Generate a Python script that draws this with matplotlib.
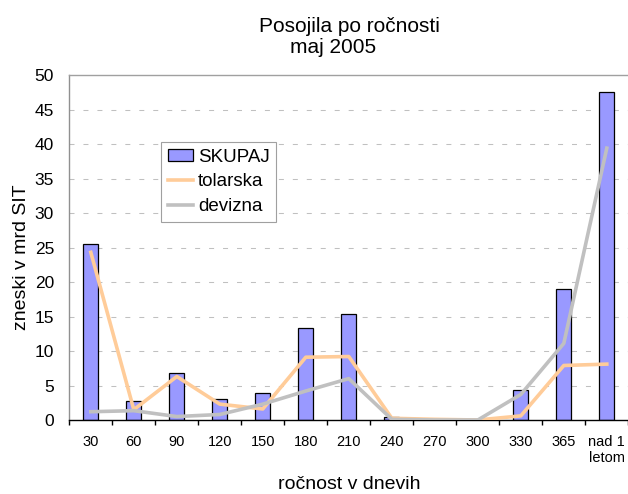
import matplotlib
matplotlib.use("Agg")
import matplotlib.pyplot as plt
from matplotlib import font_manager as fm
import numpy as np

categories = ["30", "60", "90", "120", "150", "180", "210", "240", "270", "300", "330", "365", "nad 1\nletom"]
skupaj = [25.5, 2.8, 6.8, 3.1, 3.9, 13.3, 15.3, 0.4, 0.0, 0.0, 4.3, 19.0, 47.5]
tolarska = [24.3, 1.5, 6.3, 2.3, 1.6, 9.1, 9.2, 0.25, 0.1, 0.0, 0.6, 7.9, 8.1]
devizna = [1.2, 1.35, 0.5, 0.8, 2.3, 4.2, 6.0, 0.1, 0.0, 0.0, 3.7, 11.1, 39.4]
yticks = [0, 5, 10, 15, 20, 25, 30, 35, 40, 45, 50]

names = {f.name for f in fm.fontManager.ttflist}
base = "Liberation Sans" if "Liberation Sans" in names else "DejaVu Sans"
narrow = "Liberation Sans Narrow" if "Liberation Sans Narrow" in names else base
narrow_size = 11.5 if narrow != base else 10.5
plt.rcParams["font.family"] = [base, "DejaVu Sans"]

fig = plt.figure(figsize=(6.28, 4.94), dpi=100)
ax = fig.add_axes([69.3 / 628, 1 - 420 / 494, (628.3 - 69.3) / 628, 345 / 494])

x = np.arange(len(categories))
bars = ax.bar(x, skupaj, width=0.356, color="#9999FF", edgecolor="black", linewidth=0.9,
              label="SKUPAJ", zorder=2)
l1, = ax.plot(x, tolarska, color="#FFCC99", linewidth=2.6, label="tolarska", zorder=3,
              solid_joinstyle="round")
l2, = ax.plot(x, devizna, color="#C0C0C0", linewidth=2.6, label="devizna", zorder=3,
              solid_joinstyle="round")

ax.set_xlim(-0.5, len(categories) - 0.5)
ax.set_ylim(0, 50)
ax.set_yticks(yticks)
ax.set_yticklabels([str(v) for v in yticks], fontsize=12.5)
ax.tick_params(axis="y", length=0, pad=11)

ax.set_xticks(np.arange(-0.5, len(categories), 1.0))
ax.set_xticklabels([])
ax.tick_params(axis="x", which="major", direction="out", length=3.6, width=1, color="black")
ax.set_xticks(x, minor=True)
ax.set_xticklabels(categories, minor=True, fontsize=narrow_size, family=narrow,
                   linespacing=1.25)
ax.tick_params(axis="x", which="minor", length=0, pad=10.5)

for v in yticks[1:-1]:
    ax.axhline(v, color="#C0C0C0", linewidth=0.75, linestyle=(0, (4.8, 8.6)), zorder=1)

ax.spines["right"].set_visible(False)
ax.spines["top"].set_color("#A0A0A0")
ax.spines["top"].set_linewidth(1.0)
ax.spines["left"].set_color("#909090")
ax.spines["left"].set_linewidth(1.0)
ax.spines["bottom"].set_color("black")
ax.spines["bottom"].set_linewidth(1.0)

fig.text(349 / 628, 1 - 31.7 / 494, "Posojila po ročnosti", ha="center", va="baseline",
         fontsize=15)
fig.text(333 / 628, 1 - 52.7 / 494, "maj 2005", ha="center", va="baseline", fontsize=15)
fig.text(349.5 / 628, 1 - 489 / 494, "ročnost v dnevih", ha="center", va="baseline",
         fontsize=14)
fig.text(22 / 628, 1 - 257.5 / 494, "zneski v mrd SIT", ha="center", va="center",
         rotation=90, fontsize=14)

leg = ax.legend([bars, l1, l2], ["SKUPAJ", "tolarska", "devizna"],
                loc="upper left", bbox_to_anchor=(161 / 628, 1 - 142 / 494),
                bbox_transform=fig.transFigure, borderaxespad=0, fontsize=13.5,
                frameon=True, fancybox=False, framealpha=1, edgecolor="#A0A0A0",
                handlelength=1.33, handletextpad=0.3, handleheight=0.55,
                labelspacing=0.42, borderpad=0.35)
leg.get_frame().set_linewidth(0.8)

fig.savefig("out.png", dpi=100)
